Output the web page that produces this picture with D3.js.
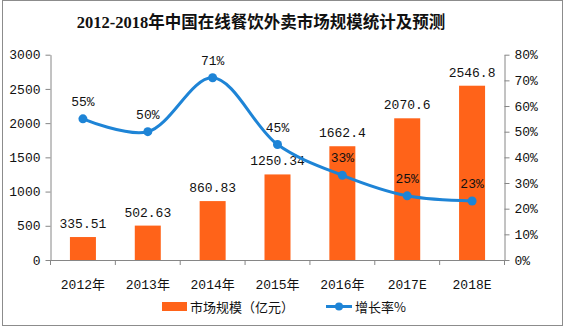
<!DOCTYPE html>
<html><head><meta charset="utf-8">
<script src="https://cdn.jsdelivr.net/npm/d3@7"></script>
<style>body{margin:0;background:#fff}svg{display:block}</style>
</head><body>
<svg id="c" width="565" height="327"></svg>
<script>
const categories = ["2012年","2013年","2014年","2015年","2016年","2017E","2018E"];
const marketSize = [335.51, 502.63, 860.83, 1250.34, 1662.4, 2070.6, 2546.8];
const sizeLabels = ["335.51","502.63","860.83","1250.34","1662.4","2070.6","2546.8"];
const growthRate = [55, 50, 71, 45, 33, 25, 23];
const leftTicks = [0,500,1000,1500,2000,2500,3000];
const rightTicks = [0,10,20,30,40,50,60,70,80];
const title = "2012-2018年中国在线餐饮外卖市场规模统计及预测";
const legendNames = ["市场规模（亿元）","增长率%"];

const orange = "#FF6319", blue = "#1E84D6", axisCol = "#868686";
const mono = "'Liberation Mono','Noto Sans CJK SC',monospace";
const svg = d3.select("#c");
const L = 50.5, R = 504.5, T = 54.7, B = 260;

svg.append("rect").attr("x",2.5).attr("y",0.5).attr("width",560).attr("height",325)
  .attr("fill","none").attr("stroke","#8c8c8c");

svg.append("text").attr("x",261).attr("y",28).attr("text-anchor","middle")
  .attr("font-family","'Liberation Serif','Noto Sans CJK SC',serif").attr("font-weight","bold")
  .attr("font-size",16.5).attr("fill","#111").text(title);

const x = d3.scaleBand().domain(categories).range([L, R]).paddingInner(0).paddingOuter(0);
const yL = d3.scaleLinear().domain([0,3000]).range([B,T]);
const yR = d3.scaleLinear().domain([0,80]).range([B,T]);

const gl = svg.append("g").attr("transform",`translate(${L},0)`)
  .call(d3.axisLeft(yL).tickValues(leftTicks).tickFormat(d=>String(d)).tickSize(5).tickSizeOuter(0).tickPadding(5));
const gr = svg.append("g").attr("transform",`translate(${R},0)`)
  .call(d3.axisRight(yR).tickValues(rightTicks).tickFormat(d=>d+"%").tickSize(5).tickSizeOuter(0).tickPadding(5));
const gb = svg.append("g").attr("transform",`translate(0,${B})`)
  .call(d3.axisBottom(x).tickSize(0).tickSizeOuter(0).tickPadding(20));
gb.selectAll("line.sep").data(d3.range(categories.length+1)).enter().append("line")
  .attr("class","sep").attr("x1",i=>L+i*x.step()).attr("x2",i=>L+i*x.step())
  .attr("y1",0).attr("y2",5).attr("stroke",axisCol);

[gl,gr,gb].forEach(g=>{
  g.selectAll("path,line").attr("stroke",axisCol);
  g.selectAll("text").attr("font-family",mono).attr("font-size",13).attr("fill","#111");
});

const bw = 26;
svg.append("g").selectAll("rect").data(marketSize).enter().append("rect")
  .attr("x",(d,i)=>x(categories[i])+x.bandwidth()/2-bw/2)
  .attr("y",d=>yL(d)).attr("width",bw).attr("height",d=>B-yL(d)).attr("fill",orange);

svg.append("g").selectAll("text").data(marketSize).enter().append("text")
  .attr("x",(d,i)=>x(categories[i])+x.bandwidth()/2)
  .attr("y",d=>yL(d)-9).attr("text-anchor","middle")
  .attr("font-family",mono).attr("font-size",13).attr("fill","#111")
  .text((d,i)=>sizeLabels[i]);

const pts = growthRate.map((d,i)=>[x(categories[i])+x.bandwidth()/2, yR(d)]);
svg.append("path").datum(pts).attr("d",d3.line().curve(d3.curveCatmullRom.alpha(0.5)))
  .attr("fill","none").attr("stroke",blue).attr("stroke-width",3);
svg.append("g").selectAll("circle").data(pts).enter().append("circle")
  .attr("cx",d=>d[0]).attr("cy",d=>d[1]).attr("r",4.5).attr("fill",blue);
svg.append("g").selectAll("text").data(growthRate).enter().append("text")
  .attr("x",(d,i)=>pts[i][0]).attr("y",(d,i)=>pts[i][1]-13).attr("text-anchor","middle")
  .attr("font-family",mono).attr("font-size",13).attr("fill","#111")
  .text(d=>d+"%");

const lg = svg.append("g");
lg.append("rect").attr("x",162).attr("y",302).attr("width",25).attr("height",9).attr("fill",orange);
lg.append("text").attr("x",190).attr("y",312).attr("font-family","'Noto Sans CJK SC',sans-serif")
  .attr("font-size",13).attr("fill","#111").text(legendNames[0]);
lg.append("line").attr("x1",326).attr("x2",352).attr("y1",306.5).attr("y2",306.5)
  .attr("stroke",blue).attr("stroke-width",3);
lg.append("circle").attr("cx",339).attr("cy",306.5).attr("r",4).attr("fill",blue);
lg.append("text").attr("x",355).attr("y",312).attr("font-family","'Noto Sans CJK SC',sans-serif")
  .attr("font-size",13).attr("fill","#111").text(legendNames[1]);
</script>
</body></html>
